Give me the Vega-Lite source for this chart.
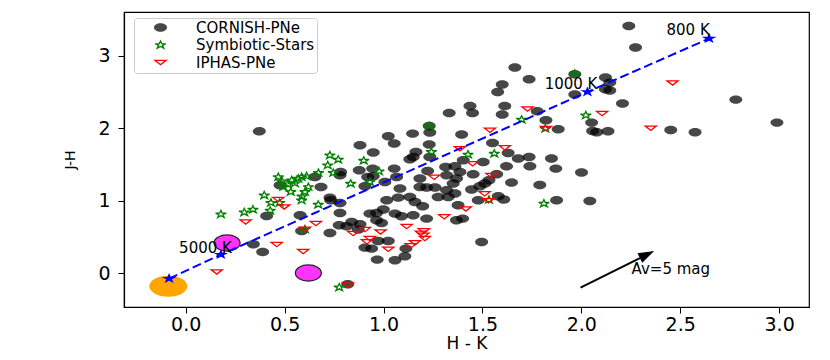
{
  "$schema": "https://vega.github.io/schema/vega-lite/v6.json",
  "width": 685,
  "height": 295,
  "autosize": {"type": "none"},
  "padding": {"left": 124, "top": 12, "right": 21, "bottom": 53},
  "background": "white",
  "config": {
    "view": {"stroke": "black", "strokeWidth": 1.2},
    "font": "DejaVu Sans",
    "axis": {
      "grid": false,
      "domainColor": "black",
      "domainWidth": 1.2,
      "tickColor": "black",
      "tickWidth": 1,
      "tickSize": 6,
      "labelColor": "black",
      "titleColor": "black",
      "labelFont": "DejaVu Sans",
      "titleFont": "DejaVu Sans",
      "titleFontWeight": "normal"
    },
    "legend": {
      "orient": "none",
      "legendX": 10,
      "legendY": 6,
      "labelFont": "DejaVu Sans",
      "labelFontSize": 15,
      "labelColor": "black",
      "labelExpr": "datum.label + '\u00a0\u00a0\u00a0\u00a0\u00a0\u00a0'",
      "symbolSize": 169,
      "symbolStrokeWidth": 1.3,
      "symbolOffset": 17,
      "labelOffset": 28,
      "padding": 2,
      "rowPadding": 1.5,
      "strokeColor": "#cccccc",
      "fillColor": "rgba(255,255,255,0.8)",
      "cornerRadius": 3
    }
  },
  "datasets": {
    "pts": [
      {"type": "CORNISH-PNe", "hk": 2.240, "jh": 3.415}, {"type": "CORNISH-PNe", "hk": 2.274, "jh": 3.116}, {"type": "CORNISH-PNe", "hk": 1.664, "jh": 2.840}, {"type": "CORNISH-PNe", "hk": 1.736, "jh": 2.678}, {"type": "CORNISH-PNe", "hk": 1.600, "jh": 2.605}, {"type": "CORNISH-PNe", "hk": 1.577, "jh": 2.502}, {"type": "CORNISH-PNe", "hk": 1.967, "jh": 2.747}, {"type": "CORNISH-PNe", "hk": 2.122, "jh": 2.702}, {"type": "CORNISH-PNe", "hk": 2.144, "jh": 2.632}, {"type": "CORNISH-PNe", "hk": 2.122, "jh": 2.540},
      {"type": "CORNISH-PNe", "hk": 2.144, "jh": 2.522}, {"type": "CORNISH-PNe", "hk": 1.967, "jh": 2.467}, {"type": "CORNISH-PNe", "hk": 2.781, "jh": 2.397}, {"type": "CORNISH-PNe", "hk": 2.208, "jh": 2.342}, {"type": "CORNISH-PNe", "hk": 1.437, "jh": 2.309}, {"type": "CORNISH-PNe", "hk": 1.450, "jh": 2.212}, {"type": "CORNISH-PNe", "hk": 1.613, "jh": 2.309}, {"type": "CORNISH-PNe", "hk": 1.600, "jh": 2.190}, {"type": "CORNISH-PNe", "hk": 1.777, "jh": 2.236}, {"type": "CORNISH-PNe", "hk": 1.821, "jh": 2.111},
      {"type": "CORNISH-PNe", "hk": 2.052, "jh": 2.079}, {"type": "CORNISH-PNe", "hk": 2.989, "jh": 2.079}, {"type": "CORNISH-PNe", "hk": 2.452, "jh": 1.977}, {"type": "CORNISH-PNe", "hk": 2.575, "jh": 1.945}, {"type": "CORNISH-PNe", "hk": 1.883, "jh": 1.987}, {"type": "CORNISH-PNe", "hk": 2.057, "jh": 1.963}, {"type": "CORNISH-PNe", "hk": 2.078, "jh": 1.945}, {"type": "CORNISH-PNe", "hk": 2.135, "jh": 1.959}, {"type": "CORNISH-PNe", "hk": 1.395, "jh": 1.914}, {"type": "CORNISH-PNe", "hk": 1.551, "jh": 1.797},
      {"type": "CORNISH-PNe", "hk": 1.630, "jh": 1.659}, {"type": "CORNISH-PNe", "hk": 1.681, "jh": 1.582}, {"type": "CORNISH-PNe", "hk": 1.736, "jh": 1.604}, {"type": "CORNISH-PNe", "hk": 1.849, "jh": 1.582}, {"type": "CORNISH-PNe", "hk": 1.504, "jh": 1.535}, {"type": "CORNISH-PNe", "hk": 1.622, "jh": 1.475}, {"type": "CORNISH-PNe", "hk": 1.740, "jh": 1.475}, {"type": "CORNISH-PNe", "hk": 1.871, "jh": 1.443}, {"type": "CORNISH-PNe", "hk": 2.001, "jh": 1.388}, {"type": "CORNISH-PNe", "hk": 1.453, "jh": 1.365},
      {"type": "CORNISH-PNe", "hk": 1.572, "jh": 1.365}, {"type": "CORNISH-PNe", "hk": 1.512, "jh": 1.236}, {"type": "CORNISH-PNe", "hk": 1.487, "jh": 1.199}, {"type": "CORNISH-PNe", "hk": 1.533, "jh": 1.282}, {"type": "CORNISH-PNe", "hk": 1.647, "jh": 1.250}, {"type": "CORNISH-PNe", "hk": 1.790, "jh": 1.217}, {"type": "CORNISH-PNe", "hk": 1.445, "jh": 1.153}, {"type": "CORNISH-PNe", "hk": 1.580, "jh": 1.060}, {"type": "CORNISH-PNe", "hk": 1.608, "jh": 1.015}, {"type": "CORNISH-PNe", "hk": 1.479, "jh": 1.005},
      {"type": "CORNISH-PNe", "hk": 1.875, "jh": 1.005}, {"type": "CORNISH-PNe", "hk": 2.043, "jh": 0.995}, {"type": "CORNISH-PNe", "hk": 1.400, "jh": 0.752}, {"type": "CORNISH-PNe", "hk": 1.496, "jh": 0.429}, {"type": "CORNISH-PNe", "hk": 1.403, "jh": 1.558}, {"type": "CORNISH-PNe", "hk": 0.372, "jh": 1.959}, {"type": "CORNISH-PNe", "hk": 1.332, "jh": 2.212}, {"type": "CORNISH-PNe", "hk": 1.231, "jh": 2.032}, {"type": "CORNISH-PNe", "hk": 1.147, "jh": 1.927}, {"type": "CORNISH-PNe", "hk": 1.234, "jh": 1.941},
      {"type": "CORNISH-PNe", "hk": 1.024, "jh": 1.890}, {"type": "CORNISH-PNe", "hk": 1.054, "jh": 1.789}, {"type": "CORNISH-PNe", "hk": 0.881, "jh": 1.766}, {"type": "CORNISH-PNe", "hk": 0.948, "jh": 1.665}, {"type": "CORNISH-PNe", "hk": 1.231, "jh": 1.775}, {"type": "CORNISH-PNe", "hk": 1.164, "jh": 1.673}, {"type": "CORNISH-PNe", "hk": 1.150, "jh": 1.604}, {"type": "CORNISH-PNe", "hk": 1.133, "jh": 1.572}, {"type": "CORNISH-PNe", "hk": 1.234, "jh": 1.604}, {"type": "CORNISH-PNe", "hk": 1.314, "jh": 1.466},
      {"type": "CORNISH-PNe", "hk": 1.361, "jh": 1.475}, {"type": "CORNISH-PNe", "hk": 1.223, "jh": 1.410}, {"type": "CORNISH-PNe", "hk": 1.054, "jh": 1.443}, {"type": "CORNISH-PNe", "hk": 0.945, "jh": 1.443}, {"type": "CORNISH-PNe", "hk": 0.877, "jh": 1.420}, {"type": "CORNISH-PNe", "hk": 0.780, "jh": 1.351}, {"type": "CORNISH-PNe", "hk": 0.653, "jh": 1.327}, {"type": "CORNISH-PNe", "hk": 0.920, "jh": 1.327}, {"type": "CORNISH-PNe", "hk": 0.783, "jh": 1.396}, {"type": "CORNISH-PNe", "hk": 1.007, "jh": 1.258},
      {"type": "CORNISH-PNe", "hk": 0.948, "jh": 1.337}, {"type": "CORNISH-PNe", "hk": 0.477, "jh": 1.213}, {"type": "CORNISH-PNe", "hk": 0.684, "jh": 1.189}, {"type": "CORNISH-PNe", "hk": 0.578, "jh": 0.798}, {"type": "CORNISH-PNe", "hk": 0.409, "jh": 0.788}, {"type": "CORNISH-PNe", "hk": 0.733, "jh": 1.005}, {"type": "CORNISH-PNe", "hk": 0.780, "jh": 0.968}, {"type": "CORNISH-PNe", "hk": 0.780, "jh": 0.830}, {"type": "CORNISH-PNe", "hk": 0.729, "jh": 0.553}, {"type": "CORNISH-PNe", "hk": 0.586, "jh": 0.581},
      {"type": "CORNISH-PNe", "hk": 0.342, "jh": 0.397}, {"type": "CORNISH-PNe", "hk": 0.389, "jh": 0.290}, {"type": "CORNISH-PNe", "hk": 0.819, "jh": -0.156}, {"type": "CORNISH-PNe", "hk": 0.729, "jh": 1.042}, {"type": "CORNISH-PNe", "hk": 0.776, "jh": 0.660}, {"type": "CORNISH-PNe", "hk": 0.814, "jh": 0.646}, {"type": "CORNISH-PNe", "hk": 0.839, "jh": 0.705}, {"type": "CORNISH-PNe", "hk": 0.872, "jh": 0.600}, {"type": "CORNISH-PNe", "hk": 0.931, "jh": 0.821}, {"type": "CORNISH-PNe", "hk": 0.965, "jh": 0.830},
      {"type": "CORNISH-PNe", "hk": 0.999, "jh": 0.877}, {"type": "CORNISH-PNe", "hk": 0.965, "jh": 0.729}, {"type": "CORNISH-PNe", "hk": 0.990, "jh": 0.691}, {"type": "CORNISH-PNe", "hk": 1.058, "jh": 0.821}, {"type": "CORNISH-PNe", "hk": 1.091, "jh": 0.784}, {"type": "CORNISH-PNe", "hk": 1.083, "jh": 1.167}, {"type": "CORNISH-PNe", "hk": 1.074, "jh": 1.042}, {"type": "CORNISH-PNe", "hk": 1.133, "jh": 1.051}, {"type": "CORNISH-PNe", "hk": 1.159, "jh": 0.982}, {"type": "CORNISH-PNe", "hk": 1.198, "jh": 0.922},
      {"type": "CORNISH-PNe", "hk": 1.184, "jh": 1.189}, {"type": "CORNISH-PNe", "hk": 1.218, "jh": 1.181}, {"type": "CORNISH-PNe", "hk": 1.260, "jh": 1.181}, {"type": "CORNISH-PNe", "hk": 1.327, "jh": 1.051}, {"type": "CORNISH-PNe", "hk": 1.276, "jh": 1.051}, {"type": "CORNISH-PNe", "hk": 1.377, "jh": 0.936}, {"type": "CORNISH-PNe", "hk": 1.319, "jh": 1.143}, {"type": "CORNISH-PNe", "hk": 0.940, "jh": 0.337}, {"type": "CORNISH-PNe", "hk": 0.906, "jh": 0.351}, {"type": "CORNISH-PNe", "hk": 0.973, "jh": 0.442},
      {"type": "CORNISH-PNe", "hk": 1.024, "jh": 0.442}, {"type": "CORNISH-PNe", "hk": 1.113, "jh": 0.337}, {"type": "CORNISH-PNe", "hk": 1.108, "jh": 0.231}, {"type": "CORNISH-PNe", "hk": 1.058, "jh": 0.176}, {"type": "CORNISH-PNe", "hk": 0.968, "jh": 0.185}, {"type": "CORNISH-PNe", "hk": 1.218, "jh": 0.752}, {"type": "CORNISH-PNe", "hk": 1.369, "jh": 0.729}, {"type": "CORNISH-PNe", "hk": 1.352, "jh": 1.236}, {"type": "CORNISH-PNe", "hk": 1.369, "jh": 1.305}, {"type": "CORNISH-PNe", "hk": 1.150, "jh": 0.798},
      {"type": "CORNISH-PNe", "hk": 0.881, "jh": 0.673}, {"type": "CORNISH-PNe", "hk": 1.016, "jh": 1.005}, {"type": "CORNISH-PNe", "hk": 0.906, "jh": 1.199}, {"type": "CORNISH-PNe", "hk": 1.319, "jh": 1.351}, {"type": "CORNISH-PNe", "hk": 1.386, "jh": 1.396}, {"type": "CORNISH-PNe", "hk": 1.184, "jh": 1.307}, {"type": "CORNISH-PNe", "hk": 1.361, "jh": 1.098}, {"type": "CORNISH-PNe", "hk": 1.066, "jh": 1.327},
      {"type": "Symbiotic-Stars", "hk": 1.967, "jh": 2.754}, {"type": "Symbiotic-Stars", "hk": 1.231, "jh": 2.031}, {"type": "Symbiotic-Stars", "hk": 1.242, "jh": 1.673}, {"type": "Symbiotic-Stars", "hk": 1.427, "jh": 1.638}, {"type": "Symbiotic-Stars", "hk": 1.560, "jh": 1.651}, {"type": "Symbiotic-Stars", "hk": 1.698, "jh": 2.121}, {"type": "Symbiotic-Stars", "hk": 2.023, "jh": 2.180}, {"type": "Symbiotic-Stars", "hk": 1.818, "jh": 1.996}, {"type": "Symbiotic-Stars", "hk": 1.533, "jh": 1.012}, {"type": "Symbiotic-Stars", "hk": 1.811, "jh": 0.960},
      {"type": "Symbiotic-Stars", "hk": 0.729, "jh": 1.627}, {"type": "Symbiotic-Stars", "hk": 0.771, "jh": 1.568}, {"type": "Symbiotic-Stars", "hk": 0.900, "jh": 1.554}, {"type": "Symbiotic-Stars", "hk": 0.718, "jh": 1.489}, {"type": "Symbiotic-Stars", "hk": 0.746, "jh": 1.383}, {"type": "Symbiotic-Stars", "hk": 0.671, "jh": 1.383}, {"type": "Symbiotic-Stars", "hk": 0.611, "jh": 1.337}, {"type": "Symbiotic-Stars", "hk": 0.586, "jh": 1.327}, {"type": "Symbiotic-Stars", "hk": 0.977, "jh": 1.406}, {"type": "Symbiotic-Stars", "hk": 0.834, "jh": 1.236},
      {"type": "Symbiotic-Stars", "hk": 0.931, "jh": 1.258}, {"type": "Symbiotic-Stars", "hk": 0.468, "jh": 1.327}, {"type": "Symbiotic-Stars", "hk": 0.536, "jh": 1.282}, {"type": "Symbiotic-Stars", "hk": 0.569, "jh": 1.305}, {"type": "Symbiotic-Stars", "hk": 0.493, "jh": 1.189}, {"type": "Symbiotic-Stars", "hk": 0.531, "jh": 1.120}, {"type": "Symbiotic-Stars", "hk": 0.552, "jh": 1.240}, {"type": "Symbiotic-Stars", "hk": 0.517, "jh": 1.226}, {"type": "Symbiotic-Stars", "hk": 0.397, "jh": 1.074}, {"type": "Symbiotic-Stars", "hk": 0.431, "jh": 0.971},
      {"type": "Symbiotic-Stars", "hk": 0.475, "jh": 0.971}, {"type": "Symbiotic-Stars", "hk": 0.427, "jh": 0.863}, {"type": "Symbiotic-Stars", "hk": 0.340, "jh": 0.877}, {"type": "Symbiotic-Stars", "hk": 0.296, "jh": 0.839}, {"type": "Symbiotic-Stars", "hk": 0.178, "jh": 0.812}, {"type": "Symbiotic-Stars", "hk": 0.620, "jh": 1.189}, {"type": "Symbiotic-Stars", "hk": 0.603, "jh": 1.120}, {"type": "Symbiotic-Stars", "hk": 0.586, "jh": 1.005}, {"type": "Symbiotic-Stars", "hk": 0.670, "jh": 0.946}, {"type": "Symbiotic-Stars", "hk": 0.603, "jh": 0.604},
      {"type": "Symbiotic-Stars", "hk": 0.776, "jh": -0.198}, {"type": "Symbiotic-Stars", "hk": 0.588, "jh": 1.060}, {"type": "Symbiotic-Stars", "hk": 0.487, "jh": 1.268},
      {"type": "IPHAS-PNe", "hk": 2.461, "jh": 2.627}, {"type": "IPHAS-PNe", "hk": 2.351, "jh": 2.001}, {"type": "IPHAS-PNe", "hk": 2.105, "jh": 2.204}, {"type": "IPHAS-PNe", "hk": 1.728, "jh": 2.267}, {"type": "IPHAS-PNe", "hk": 1.821, "jh": 1.996}, {"type": "IPHAS-PNe", "hk": 1.538, "jh": 1.973}, {"type": "IPHAS-PNe", "hk": 1.613, "jh": 1.731}, {"type": "IPHAS-PNe", "hk": 1.386, "jh": 1.717}, {"type": "IPHAS-PNe", "hk": 1.450, "jh": 1.510}, {"type": "IPHAS-PNe", "hk": 1.546, "jh": 1.347},
      {"type": "IPHAS-PNe", "hk": 1.511, "jh": 1.095}, {"type": "IPHAS-PNe", "hk": 1.530, "jh": 0.998}, {"type": "IPHAS-PNe", "hk": 1.416, "jh": 0.885}, {"type": "IPHAS-PNe", "hk": 1.256, "jh": 1.323}, {"type": "IPHAS-PNe", "hk": 1.307, "jh": 0.777}, {"type": "IPHAS-PNe", "hk": 1.117, "jh": 0.642}, {"type": "IPHAS-PNe", "hk": 1.204, "jh": 0.583}, {"type": "IPHAS-PNe", "hk": 1.201, "jh": 0.521}, {"type": "IPHAS-PNe", "hk": 1.209, "jh": 0.476}, {"type": "IPHAS-PNe", "hk": 1.159, "jh": 0.418},
      {"type": "IPHAS-PNe", "hk": 1.138, "jh": 0.376}, {"type": "IPHAS-PNe", "hk": 1.024, "jh": 0.328}, {"type": "IPHAS-PNe", "hk": 0.847, "jh": 0.545}, {"type": "IPHAS-PNe", "hk": 0.906, "jh": 0.600}, {"type": "IPHAS-PNe", "hk": 0.985, "jh": 0.567}, {"type": "IPHAS-PNe", "hk": 0.931, "jh": 0.476}, {"type": "IPHAS-PNe", "hk": 0.916, "jh": 0.431}, {"type": "IPHAS-PNe", "hk": 0.658, "jh": 0.683}, {"type": "IPHAS-PNe", "hk": 0.603, "jh": 0.604}, {"type": "IPHAS-PNe", "hk": 0.594, "jh": 0.297},
      {"type": "IPHAS-PNe", "hk": 0.460, "jh": 0.393}, {"type": "IPHAS-PNe", "hk": 0.303, "jh": 0.705}, {"type": "IPHAS-PNe", "hk": 0.468, "jh": 1.015}, {"type": "IPHAS-PNe", "hk": 0.498, "jh": 0.913}, {"type": "IPHAS-PNe", "hk": 0.157, "jh": 0.014}, {"type": "IPHAS-PNe", "hk": 0.820, "jh": -0.170}, {"type": "IPHAS-PNe", "hk": 1.189, "jh": 0.549}
    ],
    "bb": [
      {"order": 1, "hk": -0.084, "jh": -0.077},
      {"order": 2, "hk": 0.178, "jh": 0.254},
      {"order": 3, "hk": 2.031, "jh": 2.503},
      {"order": 4, "hk": 2.646, "jh": 3.241}
    ],
    "temps": [
      {"label": "5000 K", "hk": 0.100, "jh": 0.351},
      {"label": "1000 K", "hk": 1.948, "jh": 2.609},
      {"label": "800 K", "hk": 2.540, "jh": 3.355}
    ],
    "magenta": [
      {"hk": 0.209, "jh": 0.415},
      {"hk": 0.620, "jh": 0.0}
    ],
    "orange": [
      {"hk": -0.088, "jh": -0.184}
    ],
    "arrow": [
      {"hk": 1.996, "jh": -0.202, "hk2": 2.296, "jh2": 0.206}
    ],
    "arrowhead": [
      {"hk": 2.296, "jh": 0.206}
    ],
    "av": [
      {"label": "Av=5 mag", "hk": 2.254, "jh": 0.051}
    ]
  },
  "encoding": {
    "x": {
      "field": "hk",
      "type": "quantitative",
      "scale": {"domain": [-0.312, 3.151], "nice": false, "zero": false},
      "axis": {
        "values": [0, 0.5, 1, 1.5, 2, 2.5, 3],
        "format": ".1f",
        "title": "H - K",
        "labelFontSize": 19,
        "labelPadding": 2,
        "titleFontSize": 17,
        "titlePadding": 1
      }
    },
    "y": {
      "field": "jh",
      "type": "quantitative",
      "scale": {"domain": [-0.470, 3.608], "nice": false, "zero": false},
      "axis": {
        "values": [0, 1, 2, 3],
        "format": "d",
        "title": "J-H",
        "labelFontSize": 19,
        "labelPadding": 8,
        "titleFontSize": 14,
        "titlePadding": 20
      }
    }
  },
  "layer": [
    {
      "data": {"name": "pts"},
      "mark": {"type": "point", "size": 169, "strokeWidth": 1.3, "opacity": 1},
      "encoding": {
        "shape": {
          "field": "type",
          "type": "nominal",
          "title": null,
          "scale": {
            "domain": ["CORNISH-PNe", "Symbiotic-Stars", "IPHAS-PNe"],
            "range": [
              "M -1 0 A 1 0.65 0 1 1 1 0 A 1 0.65 0 1 1 -1 0 Z",
              "M 0 -0.6 L 0.193 -0.186 L 0.82 -0.186 L 0.312 0.071 L 0.508 0.49 L 0 0.23 L -0.508 0.49 L -0.312 0.071 L -0.82 -0.186 L -0.193 -0.186 Z",
              "M -0.85 -0.33 L 0.85 -0.33 L 0 0.33 Z"
            ]
          }
        },
        "fill": {
          "field": "type",
          "type": "nominal",
          "title": null,
          "scale": {
            "domain": ["CORNISH-PNe", "Symbiotic-Stars", "IPHAS-PNe"],
            "range": ["rgba(0,0,0,0.72)", "transparent", "transparent"]
          }
        },
        "stroke": {
          "field": "type",
          "type": "nominal",
          "title": null,
          "scale": {
            "domain": ["CORNISH-PNe", "Symbiotic-Stars", "IPHAS-PNe"],
            "range": ["transparent", "#008000", "#ff0000"]
          }
        }
      }
    },
    {
      "data": {"name": "magenta"},
      "mark": {
        "type": "point",
        "shape": "M -1 0 A 1 0.62 0 1 1 1 0 A 1 0.62 0 1 1 -1 0 Z",
        "size": 676,
        "filled": true,
        "fill": "#ff33ff",
        "stroke": "#222222",
        "strokeWidth": 1.2,
        "opacity": 1
      }
    },
    {
      "data": {"name": "orange"},
      "mark": {
        "type": "point",
        "shape": "M -1 0 A 1 0.55 0 1 1 1 0 A 1 0.55 0 1 1 -1 0 Z",
        "size": 1444,
        "filled": true,
        "fill": "#ffa500",
        "opacity": 1
      }
    },
    {
      "data": {"name": "bb"},
      "mark": {"type": "line", "color": "#0000ff", "strokeWidth": 2, "strokeDash": [9, 4]},
      "encoding": {"order": {"field": "order", "type": "quantitative"}}
    },
    {
      "data": {"name": "bb"},
      "mark": {
        "type": "point",
        "shape": "M 0 -0.6 L 0.193 -0.186 L 0.82 -0.186 L 0.312 0.071 L 0.508 0.49 L 0 0.23 L -0.508 0.49 L -0.312 0.071 L -0.82 -0.186 L -0.193 -0.186 Z",
        "size": 330,
        "filled": true,
        "fill": "#0000ff",
        "strokeWidth": 0,
        "opacity": 1
      }
    },
    {
      "data": {"name": "temps"},
      "mark": {"type": "text", "font": "DejaVu Sans", "fontSize": 15, "color": "black", "align": "center", "baseline": "middle"},
      "encoding": {"text": {"field": "label", "type": "nominal"}}
    },
    {
      "data": {"name": "arrow"},
      "mark": {"type": "rule", "color": "black", "strokeWidth": 2},
      "encoding": {
        "x2": {"field": "hk2"},
        "y2": {"field": "jh2"}
      }
    },
    {
      "data": {"name": "arrowhead"},
      "mark": {
        "type": "point",
        "shape": "M 0 -1 L 0.33 0 L -0.33 0 Z",
        "size": 1024,
        "angle": 63.6,
        "filled": true,
        "fill": "black",
        "strokeWidth": 0,
        "opacity": 1
      }
    },
    {
      "data": {"name": "av"},
      "mark": {"type": "text", "font": "DejaVu Sans", "fontSize": 15, "color": "black", "align": "left", "baseline": "middle"},
      "encoding": {"text": {"field": "label", "type": "nominal"}}
    }
  ]
}
